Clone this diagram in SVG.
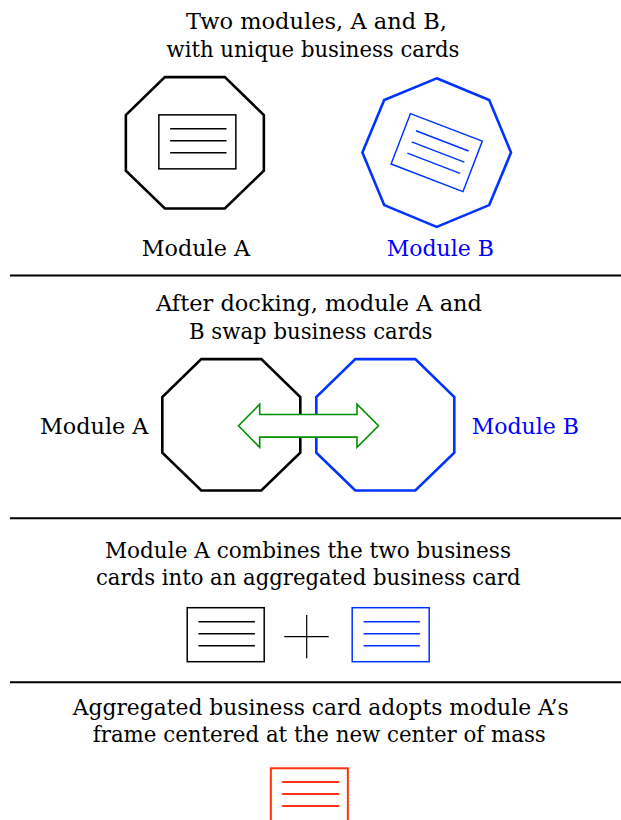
<svg xmlns="http://www.w3.org/2000/svg" width="621" height="820" viewBox="0 0 621 820">
  <style>
    .t { font-family: "DejaVu Serif", serif; font-size: 23px; fill: #000; }
    .t.blue { fill: #0000ff; }
    .oct { fill: none; stroke-width: 2.6; stroke-linejoin: miter; }
    .card { fill: none; stroke-width: 1.5; }
    .rule { stroke: #000; stroke-width: 2; }
    .k { stroke: #000; }
    .b { stroke: #0033ff; }
    .r { stroke: #ff3311; }
  </style>
  <defs>
    <!-- module outline: octagon, 138 wide x 131.4 high, centred on origin -->
    <polygon id="octagon" points="-30,-65.7 30,-65.7 69,-27.8 69,27.8 30,65.7 -30,65.7 -69,27.8 -69,-27.8"/>
    <!-- regular octagon with a vertex on top (circumradius 74.3) -->
    <polygon id="octagon-tilted" points="0,-74.3 52.5,-52.5 74.3,0 52.5,52.5 0,74.3 -52.5,52.5 -74.3,0 -52.5,-52.5"/>
    <!-- business card: frame plus three text lines, centred on origin -->
    <g id="card-shape" fill="none">
      <rect x="-38.5" y="-27" width="77" height="54" fill="none"/>
      <line x1="-27.2" y1="-13" x2="29.2" y2="-13"/>
      <line x1="-27.2" y1="-1" x2="29.2" y2="-1"/>
      <line x1="-27.2" y1="11" x2="29.2" y2="11"/>
    </g>
  </defs>

  <!-- section 1: two modules with their own cards -->
  <text class="t" x="186" y="29.3" textLength="261" lengthAdjust="spacingAndGlyphs">Two modules, A and B,</text>
  <text class="t" x="166.5" y="57" textLength="293" lengthAdjust="spacingAndGlyphs">with unique business cards</text>

  <g id="s1-module-a">
    <use href="#octagon" class="oct k" x="194.85" y="142.85"/>
    <g class="card k" transform="translate(197.35 141.85)"><use href="#card-shape"/></g>
    <text class="t" x="141.7" y="256.3" textLength="108.4" lengthAdjust="spacingAndGlyphs">Module A</text>
  </g>

  <g id="s1-module-b">
    <use href="#octagon-tilted" class="oct b" x="436.7" y="152.6"/>
    <g class="card b" transform="translate(436.7 152.6) rotate(21)"><use href="#card-shape"/></g>
    <text class="t blue" x="386.7" y="256.3" textLength="107.3" lengthAdjust="spacingAndGlyphs">Module B</text>
  </g>

  <line class="rule" x1="10" y1="275.5" x2="621" y2="275.5"/>

  <!-- section 2: docking and card exchange -->
  <text class="t" x="156" y="311.3" textLength="326" lengthAdjust="spacingAndGlyphs">After docking, module A and</text>
  <text class="t" x="189" y="338.5" textLength="243.4" lengthAdjust="spacingAndGlyphs">B swap business cards</text>

  <g id="s2-module-a">
    <use href="#octagon" class="oct k" x="231.3" y="424.8"/>
    <text class="t" x="40" y="434" textLength="108.4" lengthAdjust="spacingAndGlyphs">Module A</text>
  </g>

  <g id="s2-module-b">
    <use href="#octagon" class="oct b" x="385.3" y="424.8"/>
    <text class="t blue" x="471.7" y="434" textLength="107.3" lengthAdjust="spacingAndGlyphs">Module B</text>
  </g>

  <g id="connectors">
    <!-- double-headed exchange arrow between the docked modules -->
    <polygon points="238.5,425.8 259.7,404.3 259.7,414.5 357,414.5 357,404.3 378.5,425.8 357,447.3 357,437.1 259.7,437.1 259.7,447.3"
             fill="#ffffff" stroke="#009000" stroke-width="1.6" stroke-linejoin="miter"/>
  </g>

  <line class="rule" x1="10" y1="518.3" x2="621" y2="518.3"/>

  <!-- section 3: combining the cards -->
  <text class="t" x="105" y="558.3" textLength="406" lengthAdjust="spacingAndGlyphs">Module A combines the two business</text>
  <text class="t" x="96" y="585" textLength="424.5" lengthAdjust="spacingAndGlyphs">cards into an aggregated business card</text>

  <g id="s3-card-a" class="card k" transform="translate(225.7 634.7)"><use href="#card-shape"/></g>
  <g id="s3-plus" stroke="#000" stroke-width="1.2">
    <line x1="284.3" y1="636.7" x2="328.7" y2="636.7"/>
    <line x1="306.7" y1="615" x2="306.7" y2="658.3"/>
  </g>
  <g id="s3-card-b" class="card b" transform="translate(390.7 634.7)"><use href="#card-shape"/></g>

  <line class="rule" x1="10" y1="682.3" x2="621" y2="682.3"/>

  <!-- section 4: the aggregated card -->
  <text class="t" x="72.7" y="714.5" textLength="496" lengthAdjust="spacingAndGlyphs">Aggregated business card adopts module A’s</text>
  <text class="t" x="92.8" y="742.3" textLength="453" lengthAdjust="spacingAndGlyphs">frame centered at the new center of mass</text>

  <g id="s4-card" class="r" fill="none" stroke-width="2" transform="translate(309.35 795.3)">
    <rect x="-38.5" y="-27" width="77" height="54"/>
    <line x1="-27.2" y1="-13.3" x2="29.7" y2="-13.3"/>
    <line x1="-27.2" y1="-1.3" x2="29.7" y2="-1.3"/>
    <line x1="-27.2" y1="10.7" x2="29.7" y2="10.7"/>
  </g>
</svg>
